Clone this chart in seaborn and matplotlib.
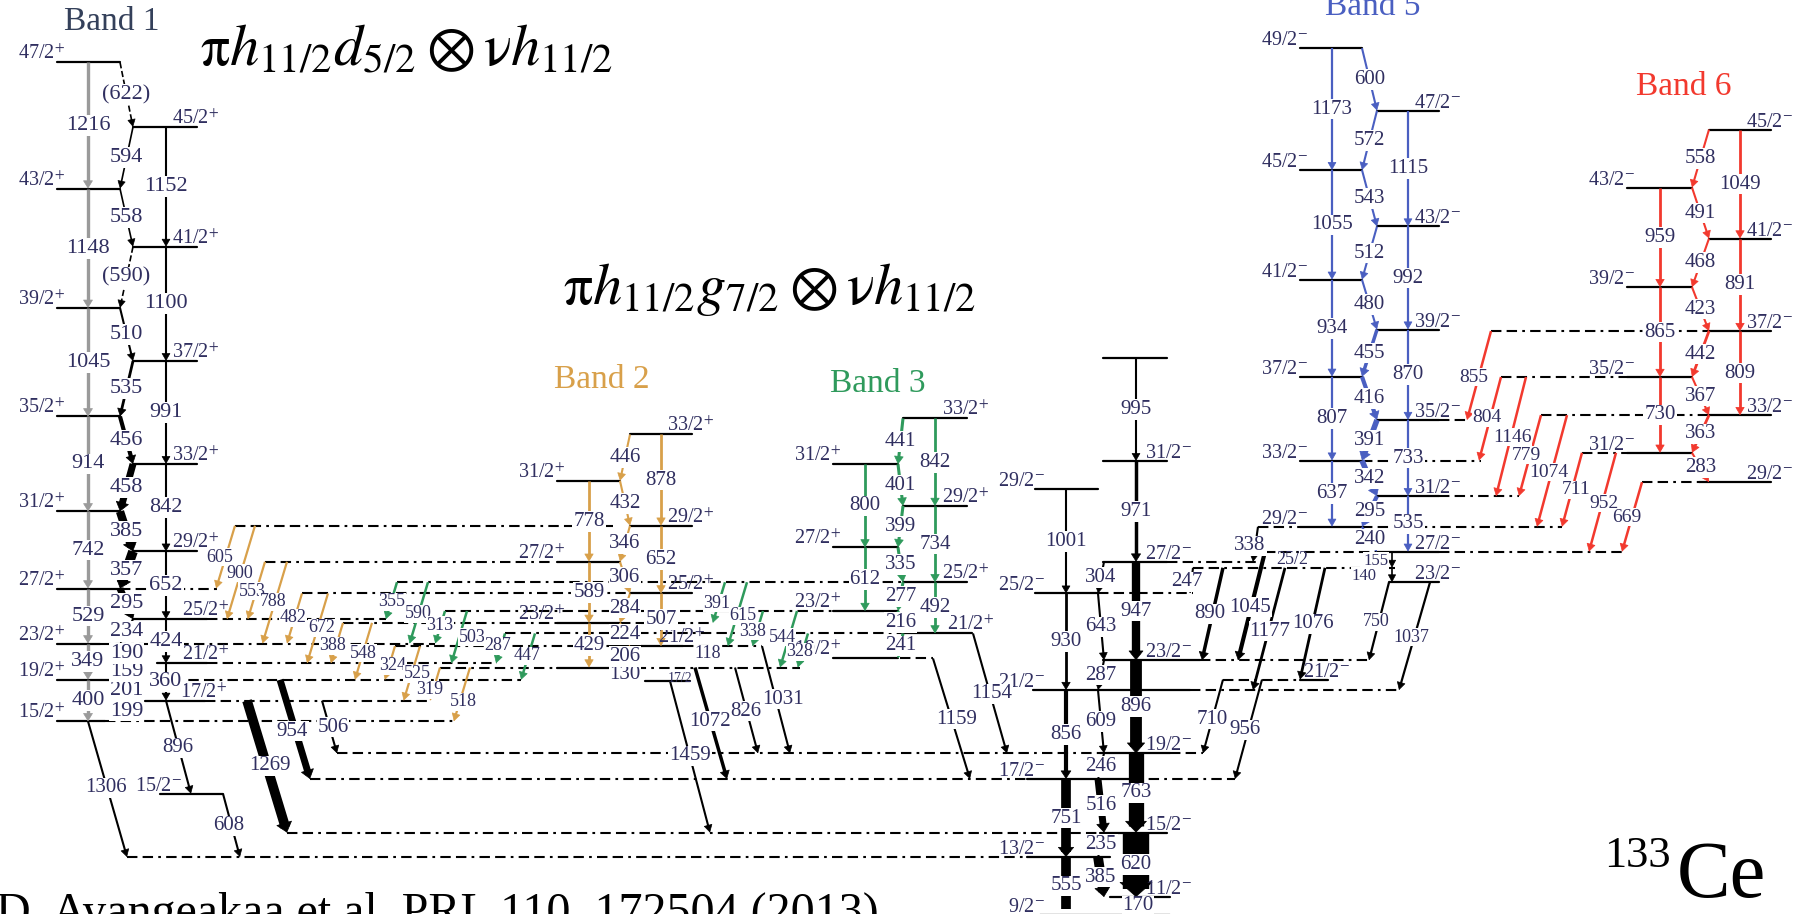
import numpy as np
import pandas as pd
import matplotlib
matplotlib.use("Agg")
import matplotlib.pyplot as plt
import seaborn as sns

sns.set_theme(style="white")
plt.rcParams["font.family"] = ["Liberation Serif", "DejaVu Serif"]
plt.rcParams["mathtext.fontset"] = "stix"

# ======================= DATA (level energies in keV above the 9/2- state) =======================
# Band 1
b1_spin = ["15/2", "17/2", "19/2", "21/2", "23/2", "25/2", "27/2", "29/2", "31/2", "33/2",
           "35/2", "37/2", "39/2", "41/2", "43/2", "45/2", "47/2"]
b1_E = [1861, 2060, 2261, 2420, 2610, 2844, 3139, 3496, 3881, 4338, 4795, 5329, 5840, 6429, 6988, 7581, 8204]
b1_M1 = ["199", "201", "159", "190", "234", "295", "357", "385", "458", "456", "535", "510", "(590)",
         "558", "594", "(622)"]
b1_E2 = ["400", "360", "349", "424", "529", "652", "742", "842", "914", "991", "1045", "1100", "1148",
         "1152", "1216"]
# Band 2
b2_spin = ["17/2", "19/2", "21/2", "23/2", "25/2", "27/2", "29/2", "31/2", "33/2"]
b2_E = [2249, 2379, 2585, 2809, 3092, 3397, 3744, 4176, 4622]
b2_M1 = ["130", "206", "224", "284", "306", "346", "432", "446"]
b2_E2 = ["429", "507", "589", "652", "778", "878"]
# Band 3
b3_spin = ["19/2", "21/2", "23/2", "25/2", "27/2", "29/2", "31/2", "33/2"]
b3_E = [2466, 2707, 2923, 3200, 3535, 3934, 4335, 4776]
b3_M1 = ["241", "216", "277", "335", "399", "401", "441"]
b3_E2 = ["492", "612", "734", "800", "842"]
# yrast negative-parity band
yr_spin = ["9/2", "11/2", "13/2", "15/2", "17/2", "19/2", "21/2", "23/2", "25/2", "27/2", "29/2", "31/2"]
yr_E = [0, 170, 555, 790, 1306, 1553, 2162, 2449, 3092, 3396, 4093, 4367]
yr_M1 = ["170", "385", "235", "516", "246", "609", "287", "643", "304"]
yr_E2 = ["555", "620", "751", "763", "856", "896", "930", "947", "1001", "971"]
yr_top_E = 5362
yr_top_lab = "995"
# Band 5
b5_spin = ["27/2", "29/2", "31/2", "33/2", "35/2", "37/2", "39/2", "41/2", "43/2", "45/2", "47/2", "49/2"]
b5_E = [3494, 3734, 4029, 4371, 4762, 5178, 5632, 6112, 6624, 7167, 7739, 8340]
b5_M1 = ["240", "295", "342", "391", "416", "455", "480", "512", "543", "572", "600"]
b5_E2 = ["535", "637", "733", "807", "870", "934", "992", "1055", "1115", "1173"]
b5_low_spin = ["23/2", "25/2"]
b5_low_E = [3199, 3339]
b5_low_lab = ["140", "155"]
# Band 6
b6_spin = ["29/2", "31/2", "33/2", "35/2", "37/2", "39/2", "41/2", "43/2", "45/2"]
b6_E = [4163, 4446, 4808, 5175, 5617, 6040, 6508, 6999, 7557]
b6_M1 = ["283", "363", "367", "442", "423", "468", "491", "558"]
b6_E2 = ["730", "809", "865", "891", "959", "1049"]
# other single levels
x15_E, x15_spin = 1164, "15/2"
x21_E, x21_spin = 2263, "21/2"
# linking transitions
or_lab = ["605", "900", "553", "788", "482", "672", "388", "548", "324", "525", "319", "518"]
or_from = [3744, 3744, 3397, 3397, 3092, 3092, 2809, 2809, 2585, 2585, 2379, 2379]
or_to = [3139, 2844, 2844, 2610, 2610, 2420, 2420, 2261, 2261, 2060, 2060, 1861]
gr_lab = ["355", "590", "313", "503", "287", "447", "391", "615", "338", "544", "328"]
gr_from = [3200, 3200, 2923, 2923, 2707, 2707, 3200, 3200, 2923, 2923, 2707]
gr_to = [2844, 2610, 2610, 2420, 2420, 2261, 2809, 2585, 2585, 2379, 2379]
bk_lab = ["1306", "896", "608", "1269", "954", "506", "1459", "1072", "826", "1031", "1159", "1154",
          "338", "247", "890", "1045", "1177", "1076", "710", "956", "750", "1037"]
bk_from = [1861, 2060, 1164, 2060, 2261, 2060, 2249, 2379, 2379, 2585, 2466, 2707,
           3734, 3339, 3339, 3494, 3339, 3339, 2263, 2263, 3199, 3199]
bk_to = [555, 1164, 555, 790, 1306, 1553, 790, 1306, 1553, 1553, 1306, 1553,
         3396, 3092, 2449, 2449, 2162, 2263, 1553, 1306, 2449, 2162]
rd_lab = ["855", "804", "1146", "779", "1074", "711", "952", "669"]
rd_from = [5617, 5175, 5175, 4808, 4808, 4446, 4446, 4163]
rd_to = [4762, 4371, 4029, 4029, 3734, 3734, 3494, 3494]
# dashed level extensions (energies)
ext_E = [3744, 3397, 3092, 2809, 2585, 2379, 2809, 2585, 2379,
         3139, 2844, 2610, 2420, 2261, 2060, 1861,
         3200, 2923, 2707, 2466,
         555, 790, 1306, 1306, 1553, 1553, 2162, 2449, 3092, 3396, 2263,
         3339, 3494, 3494, 3734, 3734, 4029, 4371, 4762,
         5617, 5175, 4808, 4446, 4163]

# ======================= LAYOUT / STYLE =======================
W, H = 1799, 914
Y0, K = 914.7, 0.1039           # pixel row of 0 keV, pixels per keV


def E_of(py):
    return (Y0 - py) / K


NUMC = "#302f60"
C2, C3, C5, C6 = "#d8a04a", "#2f9a5c", "#4a5fc1", "#f2392e"
GRAY = "#9a9a9a"

fig = plt.figure(figsize=(W / 100, H / 100), dpi=100)
ax = fig.add_axes([0, 0, 1, 1])

level_rows = []


def add_level(E, x0, x1):
    lid = len(level_rows) // 2
    level_rows.append({"id": lid, "x": x0, "E": E})
    level_rows.append({"id": lid, "x": x1, "E": E})


def slabel(x, E, spin, par, side, fs=14.5):
    s = spin + (r"$^{+}$" if par == "+" else r"$^{-}$")
    ax.text(x, E + 3 / K, s, fontsize=fs, color=NUMC, ha="right" if side == "L" else "left",
            va="baseline", zorder=6)


def tlabel(x, E, s, fs=15, color=NUMC):
    ax.text(x, E, s, fontsize=fs, color=color, ha="center", va="center", zorder=7,
            bbox=dict(facecolor="white", edgecolor="none", pad=0.6))


def arrow(x0, E0, x1, E1, color, lw, ls="-", z=3):
    dx = x1 - x0
    dy = (E1 - E0) * K
    L = np.hypot(dx, dy)
    ux, uy = dx / L, dy / L
    hl = 0.45 + 0.03 * lw
    hw = 0.20 + 0.05 * lw
    hl_px = hl * 10 * 100 / 72
    xe, Ee = x1 - 0.6 * hl_px * ux, E1 - 0.6 * hl_px * uy / K
    ax.plot([x0, xe], [E0, Ee], color=color, lw=lw, ls=ls, solid_capstyle="butt", zorder=z)
    xb, Eb = x1 - 1.05 * hl_px * ux, E1 - 1.05 * hl_px * uy / K
    ax.annotate("", xy=(x1, E1), xytext=(xb, Eb),
                arrowprops=dict(arrowstyle=f"-|>,head_length={hl:.2f},head_width={hw:.2f}",
                                color=color, lw=0.5, shrinkA=0, shrinkB=0, mutation_scale=10),
                zorder=z)


def draw_band(spins, Es, par, first, xL, xR, special, e2x, e2col, e2lab, e2first, e2lw,
              m1lab, m1col, m1lw, m1ls=None, skip_lab=(), lab_xL=None, lab_xR=None, fs=15,
              m1x=None, e2fs=None):
    other = "R" if first == "L" else "L"
    sides = [first if i % 2 == 0 else other for i in range(len(Es))]
    for i, (sp, E, sd) in enumerate(zip(spins, Es, sides)):
        x0, x1 = special.get(i, xL if sd == "L" else xR)
        add_level(E, x0, x1)
        if i in skip_lab:
            continue
        if sd == "L":
            slabel(lab_xL if lab_xL else x0 + 8, E, sp, par, "L")
        else:
            slabel(lab_xR if lab_xR else x1 - 25, E, sp, par, "R")
    for k, lab in enumerate(e2lab):
        j = e2first + k
        x = e2x[sides[j]]
        w = e2lw[k] if isinstance(e2lw, list) else e2lw
        arrow(x, Es[j + 2], x, Es[j], e2col[sides[j]], w)
        tlabel(x, (Es[j + 2] + Es[j]) / 2, lab, e2fs or fs)
    inner = {"L": xL[1], "R": xR[0]}
    for j, lab in enumerate(m1lab):
        xa, xb = inner[sides[j + 1]], inner[sides[j]]
        if m1x and j in m1x:
            xa, xb = m1x[j]
        ls = m1ls[j] if m1ls else "-"
        arrow(xa, Es[j + 1], xb, Es[j], m1col, m1lw[j], ls)
        tlabel((xa + xb) / 2, (Es[j + 1] + Es[j]) / 2, lab, fs)


# ---------- dashed extensions ----------
ext_x = [(235, 613), (265, 550), (302, 630), (343, 557), (395, 615), (440, 557), (620, 713), (683, 762), (620, 800),
         (120, 217), (207, 386), (100, 435), (207, 497), (110, 521), (205, 430), (105, 454),
         (397, 903), (445, 833), (505, 900), (900, 933),
         (127, 1027), (287, 1100), (310, 1027), (1133, 1235), (337, 1100), (1170, 1203), (1190, 1399),
         (1200, 1369), (1098, 1193), (1167, 1258), (1223, 1300),
         (1193, 1395), (1265, 1377), (1439, 1622), (1258, 1300), (1362, 1562), (1439, 1519), (1362, 1481),
         (1439, 1467),
         (1491, 1709), (1501, 1627), (1541, 1709), (1582, 1627), (1642, 1699)]
DASH = (0, (5, 2.5, 5, 2.5, 1.3, 2.5))
for E, (xa, xb) in zip(ext_E, ext_x):
    ax.plot([xa, xb], [E, E], color="black", lw=1.5, ls=DASH, zorder=1)

# ---------- bands ----------
draw_band(b1_spin, b1_E, "+", "L", (57, 120), (133, 197),
          {0: (57, 105), 2: (57, 110), 4: (57, 100), 1: (145, 205), 3: (157, 207), 5: (133, 207)},
          {"L": 88, "R": 166}, {"L": GRAY, "R": "black"}, b1_E2, 0,
          [2.4 if i % 2 == 0 else 1.5 for i in range(len(b1_E2))],
          b1_M1, "black", [1.2, 1.2, 1.2, 1.2, 1.5, 5, 7, 6, 5, 3, 2, 1.5, 1.2, 1.2, 1.2, 1.2],
          m1ls=["-"] * 12 + ["--", "-", "-", "--"], fs=16)

draw_band(b2_spin, b2_E, "+", "R", (557, 620), (630, 692), {0: (645, 690), 2: (615, 683)},
          {"L": 589, "R": 661}, {"L": C2, "R": C2}, b2_E2, 1, 2.0,
          b2_M1, C2, [1.5] * 8, skip_lab=(0, 1))
ax.text(680, E_of(678), "17/2", fontsize=10, color=NUMC, ha="center", va="center", zorder=6)

draw_band(b3_spin, b3_E, "+", "L", (833, 898), (903, 967), {1: (900, 972)},
          {"L": 865, "R": 935}, {"L": C3, "R": C3}, b3_E2, 1, 2.0,
          b3_M1, C3, [2.2] * 7)

draw_band(yr_spin, yr_E, "-", "L", (1035, 1098), (1104, 1167),
          {0: (1040, 1170), 1: (1110, 1170), 2: (1027, 1110), 3: (1100, 1167), 4: (1027, 1133),
           5: (1100, 1170), 6: (1033, 1190), 7: (1103, 1200), 8: (1035, 1098), 9: (1103, 1167),
           10: (1035, 1098), 11: (1103, 1167)},
          {"L": 1066, "R": 1136}, {"L": "black", "R": "black"}, yr_E2, 0,
          [7, 19, 7, 11, 3, 8.5, 2, 6, 1.5, 2.5],
          yr_M1, "black", [10, 7, 2, 5, 1.5, 1.5, 1.5, 1.5, 1.5],
          lab_xL=1045, lab_xR=1145, m1x={0: (1138, 1138)})
add_level(yr_top_E, 1103, 1167)
arrow(1136, yr_top_E, 1136, yr_E[11], "black", 1.5)
tlabel(1136, (yr_top_E + yr_E[11]) / 2, yr_top_lab)

draw_band(b5_spin, b5_E, "-", "R", (1300, 1362), (1377, 1439), {},
          {"L": 1332, "R": 1408}, {"L": C5, "R": C5}, b5_E2, 0, 1.6,
          b5_M1, C5, [1.5, 3, 4, 4, 3, 2.5, 1.5, 1.5, 1.5, 1.5, 1.5])
add_level(b5_low_E[0], 1389, 1439)
slabel(1414, b5_low_E[0], b5_low_spin[0], "-", "R")
ax.text(1292, E_of(564), b5_low_spin[1], fontsize=13, color=NUMC, ha="center", va="baseline", zorder=6)
arrow(1392, b5_E[0], 1392, b5_low_E[1], "black", 1.2)
arrow(1392, b5_low_E[1], 1392, b5_low_E[0], "black", 1.2)
tlabel(1376, E_of(561), b5_low_lab[1], 12)
tlabel(1364, E_of(576), b5_low_lab[0], 12)

draw_band(b6_spin, b6_E, "-", "R", (1627, 1692), (1709, 1771), {0: (1699, 1771)},
          {"L": 1660, "R": 1740}, {"L": C6, "R": C6}, b6_E2, 1, 2.0,
          b6_M1, C6, [1.5, 2, 1.5, 2, 1.5, 1.5, 1.5, 1.5])

# single levels
add_level(x15_E, 160, 223)
slabel(182, x15_E, x15_spin, "-", "L")
add_level(x21_E, 1300, 1328)
slabel(1303, x21_E, x21_spin, "-", "R")

# ---------- linking transitions ----------
or_xs = [235, 255, 265, 287, 302, 328, 343, 372, 395, 420, 440, 470]
or_lp = [(220, 557), (240, 573), (252, 591), (273, 602), (293, 618), (322, 628), (333, 646), (363, 653),
         (393, 666), (417, 674), (430, 690), (463, 702)]
for lab, Ea, Eb, xs, lp in zip(or_lab, or_from, or_to, or_xs, or_lp):
    xe = xs - 0.3 * (Ea - Eb) * K
    arrow(xs, Ea, xe, Eb, C2, 1.6)
    tlabel(lp[0], E_of(lp[1]), lab, 13)

gr_xs = [397, 428, 445, 467, 505, 535, 725, 747, 763, 797, 808]
gr_lp = [(392, 602), (418, 614), (440, 625), (472, 637), (498, 646), (527, 656), (717, 603), (743, 616),
         (753, 631), (782, 637), (800, 652)]
for lab, Ea, Eb, xs, lp in zip(gr_lab, gr_from, gr_to, gr_xs, gr_lp):
    xe = xs - 0.3 * (Ea - Eb) * K
    arrow(xs, Ea, xe, Eb, C3, 1.8)
    tlabel(lp[0], E_of(lp[1]), lab, 13)
tlabel(708, E_of(654), "118", 13)

bk_xs = [88, 166, 223, 247, 280, 322, 670, 695, 735, 762, 933, 973, 1258, 1193, 1223, 1265, 1285, 1325,
         1223, 1262, 1389, 1430]
bk_xe = [127, 191, 240, 287, 310, 337, 710, 727, 758, 790, 970, 1007, 1253, 1190, 1202, 1238, 1253, 1300,
         1203, 1235, 1369, 1399]
bk_lw = [1.5, 1.5, 1.5, 7, 5, 1.5, 1.5, 2.5, 1.5, 1.5, 1.5, 1.5, 1.5, 1.5, 2.5, 3, 2, 2, 1.5, 1.5, 1.6, 1.6]
bk_lp = [(106, 788), (178, 748), (229, 826), (270, 766), (292, 731), (333, 727), (690, 756), (710, 721),
         (746, 711), (783, 699), (957, 719), (992, 694), (1250, 546), (1187, 582), (1210, 614), (1250, 607),
         (1270, 631), (1313, 624), (1212, 719), (1245, 730), (1376, 622), (1411, 637)]
bk_fs = [15] * 20 + [13, 13]
for lab, Ea, Eb, xs, xe, w, lp, f in zip(bk_lab, bk_from, bk_to, bk_xs, bk_xe, bk_lw, bk_lp, bk_fs):
    arrow(xs, Ea, xe, Eb, "black", w)
    tlabel(lp[0], E_of(lp[1]), lab, f)

rd_xs = [1491, 1501, 1526, 1541, 1567, 1582, 1616, 1642]
rd_xe = [1467, 1479, 1496, 1519, 1537, 1562, 1589, 1622]
rd_lp = [(1474, 377), (1487, 418), (1512, 437), (1526, 455), (1549, 472), (1576, 490), (1604, 503),
         (1627, 517)]
for lab, Ea, Eb, xs, xe, lp in zip(rd_lab, rd_from, rd_to, rd_xs, rd_xe, rd_lp):
    arrow(xs, Ea, xe, Eb, C6, 1.8)
    tlabel(lp[0], E_of(lp[1]), lab, 14)

# ---------- levels through seaborn ----------
lev = pd.DataFrame(level_rows)
sns.lineplot(data=lev, x="x", y="E", units="id", estimator=None, sort=False, color="black",
             lw=1.6, legend=False, ax=ax, zorder=2)

# ---------- titles / annotations ----------
ax.text(112, E_of(30), "Band 1", fontsize=24, color="#34405a", ha="center", va="baseline")
ax.text(602, E_of(388), "Band 2", fontsize=24, color=C2, ha="center", va="baseline")
ax.text(878, E_of(392), "Band 3", fontsize=24, color=C3, ha="center", va="baseline")
ax.text(1373, E_of(15), "Band 5", fontsize=24, color=C5, ha="center", va="baseline")
ax.text(1684, E_of(95), "Band 6", fontsize=24, color=C6, ha="center", va="baseline")

ax.text(200, E_of(66), r"$\mathrm{\pi} h_{11/2}d_{5/2}\otimes\mathrm{\nu} h_{11/2}$", fontsize=42,
        color="black", ha="left", va="baseline")
ax.text(563, E_of(304), r"$\mathrm{\pi} h_{11/2}g_{7/2}\otimes\mathrm{\nu} h_{11/2}$", fontsize=42,
        color="black", ha="left", va="baseline")
ax.text(1604, E_of(867), "133", fontsize=32, color="black", ha="left", va="baseline")
ax.text(1677, E_of(897), "Ce", fontsize=58, color="black", ha="left", va="baseline")
ax.text(-4, E_of(926), "D. Ayangeakaa et al. PRL 110, 172504 (2013)", fontsize=34.6, color="black",
        ha="left", va="baseline")

ax.set_xlim(0, W)
ax.set_ylim(E_of(H), E_of(0))
ax.axis("off")
fig.savefig("out.png", dpi=100)
